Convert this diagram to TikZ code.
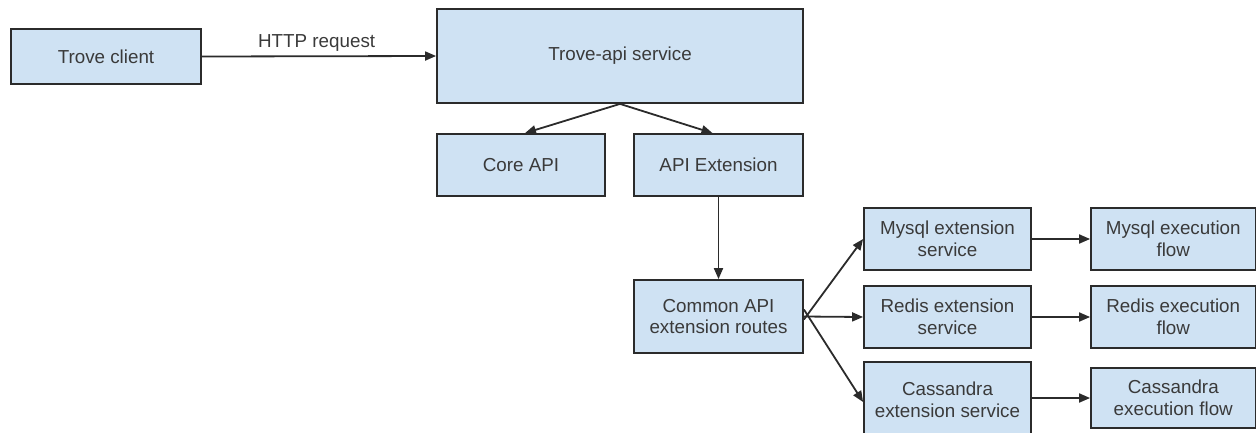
\documentclass[tikz,border=0pt]{standalone}
\usepackage{fontspec}
\setmainfont{Liberation Sans}
\usetikzlibrary{arrows.meta,positioning}
\definecolor{boxfill}{HTML}{CFE2F3}
\definecolor{boxline}{HTML}{2B2B2B}
\definecolor{txt}{HTML}{3A3A3A}
\begin{document}
\begin{tikzpicture}[x=1pt,y=-1pt,
  box/.style={draw=boxline, line width=1.8pt, fill=boxfill, text=txt, inner sep=0pt,
    align=center, font=\fontsize{18.8}{21.5}\selectfont},
  conn/.style={draw=boxline, line width=1.8pt, -{Triangle[length=11pt,width=9pt]}},
  lbl/.style={text=txt, font=\fontsize{18.8}{21.5}\selectfont}]
\useasboundingbox (0,0) rectangle (1257,432);
\newcommand{\mkbox}[6]{\node[box, minimum width=#4-#2, minimum height=#5-#3] (#1) at ({(#2+#4)/2},{(#3+#5)/2}) {#6};}
\mkbox{client}{11}{29}{201}{84}{Trove client}
\mkbox{api}{437}{9}{803}{103}{Trove-api service}
\mkbox{core}{437}{134}{605}{196}{Core API}
\mkbox{ext}{634}{134}{803}{196}{API Extension}
\mkbox{common}{634}{280}{803}{353}{Common API\\extension routes}
\mkbox{mysqlext}{864}{208}{1031}{270}{Mysql extension\\service}
\mkbox{redisext}{864}{286}{1031}{348}{Redis extension\\service}
\mkbox{cassext}{864}{362}{1031}{438}{Cassandra\\extension service}
\mkbox{mysqlexec}{1091}{208}{1255.5}{270}{Mysql execution\\flow}
\mkbox{redisexec}{1091}{286}{1255.5}{348}{Redis execution\\flow}
\mkbox{cassexec}{1091}{368}{1255.5}{428}{Cassandra\\execution flow}

\draw[conn] (client.east) -- node[lbl, pos=0.49, yshift=13pt] (http) {HTTP request} (api.west);
\draw[conn] (api.south) -- ([xshift=4pt]core.north);
\draw[conn] (api.south) -- ([xshift=-6pt]ext.north);
\draw[conn] (ext.south) -- (common.north);
\draw[conn] ([yshift=-3pt]common.east) -- (mysqlext.west);
\draw[conn] (common.east) -- (redisext.west);
\draw[conn] ([yshift=7pt]common.east) -- ([yshift=-2pt]cassext.west);
\draw[conn] (mysqlext.east) -- (mysqlexec.west);
\draw[conn] (redisext.east) -- (redisexec.west);
\draw[conn] (cassext.east |- cassexec.west) -- (cassexec.west);
\end{tikzpicture}
\end{document}
